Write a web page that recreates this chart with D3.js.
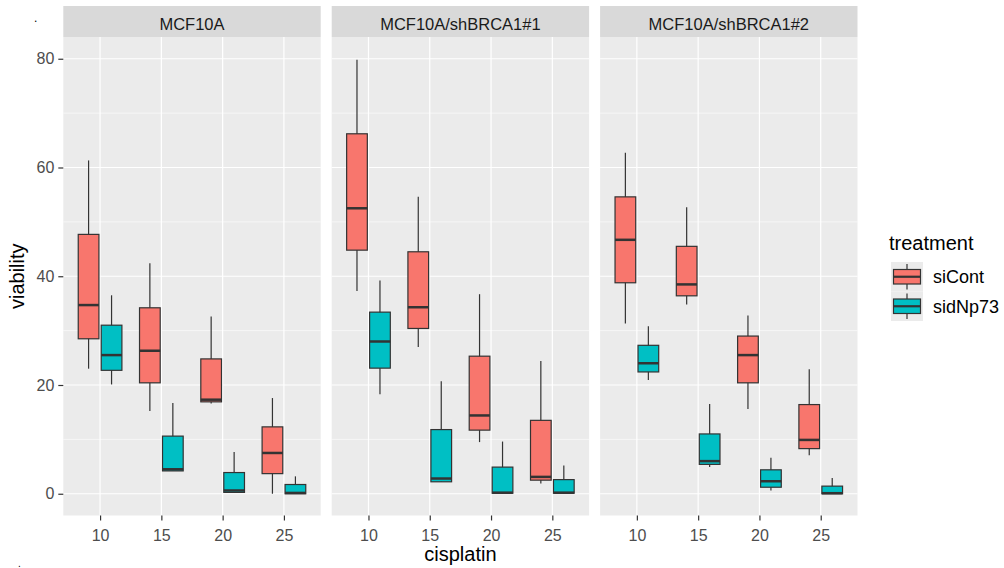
<!DOCTYPE html>
<html>
<head>
<meta charset="utf-8">
<script src="https://cdn.jsdelivr.net/npm/d3@7"></script>
<style>
  body { margin: 0; background: #fff; }
  text { font-family: "Liberation Sans", Arial, sans-serif; }
</style>
</head>
<body>
<div id="chart"></div>
<script>
// data: five-number summaries [lower whisker, q1, median, q3, upper whisker] per dose
var panels = ["MCF10A", "MCF10A/shBRCA1#1", "MCF10A/shBRCA1#2"];
var doses = [10, 15, 20, 25];
var treatments = ["siCont", "sidNp73"];
var colors = ["#F8766D", "#00BFC4"];

var mcf10a_siCont = [[23.0, 28.5, 34.7, 47.7, 61.3], [15.2, 20.4, 26.3, 34.2, 42.4], [16.6, 16.9, 17.3, 24.8, 32.6], [0.0, 3.7, 7.5, 12.3, 17.6]];
var mcf10a_sidNp73 = [[20.1, 22.7, 25.5, 31.0, 36.5], [4.2, 4.2, 4.5, 10.6, 16.7], [0.2, 0.25, 0.6, 3.9, 7.7], [0.0, 0.0, 0.15, 1.7, 3.2]];
var sh1_siCont = [[37.3, 44.8, 52.5, 66.2, 79.8], [27.0, 30.4, 34.3, 44.5, 54.6], [9.5, 11.7, 14.4, 25.3, 36.7], [1.9, 2.5, 3.1, 13.5, 24.4]];
var sh1_sidNp73 = [[18.3, 23.1, 28.0, 33.4, 39.2], [2.2, 2.2, 2.8, 11.8, 20.7], [0.0, 0.1, 0.2, 4.9, 9.6], [0.0, 0.1, 0.2, 2.6, 5.2]];
var sh2_siCont = [[31.3, 38.8, 46.7, 54.6, 62.7], [34.8, 36.4, 38.5, 45.5, 52.7], [15.6, 20.4, 25.5, 29.0, 32.8], [7.1, 8.3, 9.9, 16.4, 22.9]];
var sh2_sidNp73 = [[20.9, 22.4, 24.0, 27.3, 30.8], [4.9, 5.4, 6.0, 11.0, 16.5], [0.6, 1.2, 2.3, 4.4, 6.6], [0.0, 0.0, 0.1, 1.4, 2.9]];

var yMajor = [0, 20, 40, 60, 80];
var yMinor = [10, 30, 50, 70];

var series = [
  [mcf10a_siCont, mcf10a_sidNp73],
  [sh1_siCont, sh1_sidNp73],
  [sh2_siCont, sh2_sidNp73]
];

var width = 1004, height = 568;
var panelTop = 37, panelBottom = 515.5;
var stripTop = 6;
var panelW = 257.4, gap = 11, firstLeft = 63.3;

var svg = d3.select("#chart").append("svg")
  .attr("width", width)
  .attr("height", height);

var y = d3.scaleLinear().domain([-4, 84]).range([panelBottom, panelTop]);

panels.forEach(function(name, p) {
  var left = firstLeft + p * (panelW + gap);
  var x = d3.scalePoint().domain(doses).range([left, left + panelW]).padding(0.6);
  var step = x.step();
  var g = svg.append("g");

  // strip
  g.append("rect")
    .attr("x", left).attr("y", stripTop)
    .attr("width", panelW).attr("height", panelTop - stripTop)
    .attr("fill", "#d9d9d9");
  g.append("text")
    .attr("x", left + panelW / 2).attr("y", 30)
    .attr("text-anchor", "middle")
    .style("font-size", "16.5px")
    .style("fill", "#1a1a1a")
    .text(name);

  // panel background + grid
  g.append("rect")
    .attr("x", left).attr("y", panelTop)
    .attr("width", panelW).attr("height", panelBottom - panelTop)
    .attr("fill", "#ebebeb");
  g.selectAll(".minor").data(yMinor).enter().append("line")
    .attr("x1", left).attr("x2", left + panelW)
    .attr("y1", function(d) { return y(d); }).attr("y2", function(d) { return y(d); })
    .style("stroke", "#fff").style("stroke-width", 0.6);
  g.selectAll(".major").data(yMajor).enter().append("line")
    .attr("x1", left).attr("x2", left + panelW)
    .attr("y1", function(d) { return y(d); }).attr("y2", function(d) { return y(d); })
    .style("stroke", "#fff").style("stroke-width", 1.2);
  g.selectAll(".vmajor").data(doses).enter().append("line")
    .attr("x1", function(d) { return x(d); }).attr("x2", function(d) { return x(d); })
    .attr("y1", panelTop).attr("y2", panelBottom)
    .style("stroke", "#fff").style("stroke-width", 1.2);

  // x axis
  var xAxis = g.append("g")
    .attr("transform", "translate(0," + panelBottom + ")")
    .call(d3.axisBottom(x).tickSize(5).tickPadding(9));
  xAxis.select(".domain").remove();
  xAxis.selectAll("line").style("stroke", "#333").style("stroke-width", 1.2);
  xAxis.selectAll("text").style("font-size", "16px").style("fill", "#4d4d4d")
    .style("font-family", "Liberation Sans, Arial, sans-serif");

  // boxes
  treatments.forEach(function(t, ti) {
    var off = (ti === 0 ? -0.1875 : 0.1875) * step;
    var bw = 0.3375 * step;
    var boxes = g.append("g").selectAll("g").data(series[p][ti]).enter().append("g");
    boxes.append("line")
      .attr("x1", function(d, i) { return x(doses[i]) + off; })
      .attr("x2", function(d, i) { return x(doses[i]) + off; })
      .attr("y1", function(d) { return y(d[4]); })
      .attr("y2", function(d) { return y(d[0]); })
      .style("stroke", "#333").style("stroke-width", 1.2);
    boxes.append("rect")
      .attr("x", function(d, i) { return x(doses[i]) + off - bw / 2; })
      .attr("y", function(d) { return y(d[3]); })
      .attr("width", bw)
      .attr("height", function(d) { return y(d[1]) - y(d[3]); })
      .style("fill", colors[ti])
      .style("stroke", "#333").style("stroke-width", 1.2);
    boxes.append("line")
      .attr("x1", function(d, i) { return x(doses[i]) + off - bw / 2; })
      .attr("x2", function(d, i) { return x(doses[i]) + off + bw / 2; })
      .attr("y1", function(d) { return y(d[2]); })
      .attr("y2", function(d) { return y(d[2]); })
      .style("stroke", "#333").style("stroke-width", 2.5);
  });
});

// y axis (left panel only)
var yAxis = svg.append("g")
  .attr("transform", "translate(" + firstLeft + ",0)")
  .call(d3.axisLeft(y).tickValues(yMajor).tickSize(5).tickPadding(4));
yAxis.select(".domain").remove();
yAxis.selectAll("line").style("stroke", "#333").style("stroke-width", 1.2);
yAxis.selectAll("text").style("font-size", "16px").style("fill", "#4d4d4d")
  .style("font-family", "Liberation Sans, Arial, sans-serif");

// axis titles
var plotMid = firstLeft + (3 * panelW + 2 * gap) / 2;
svg.append("text")
  .attr("x", plotMid).attr("y", 560.5)
  .attr("text-anchor", "middle")
  .style("font-size", "20px").style("fill", "#000")
  .text("cisplatin");
svg.append("text")
  .attr("transform", "translate(24," + ((panelTop + panelBottom) / 2) + ") rotate(-90)")
  .attr("text-anchor", "middle")
  .style("font-size", "20px").style("fill", "#000")
  .text("viability");

// stray dots from the original export
svg.append("text").attr("x", 34).attr("y", 22).style("font-size", "12px").text(".");
svg.append("text").attr("x", 18).attr("y", 567).style("font-size", "10px").text(".");

// legend
var legend = svg.append("g").attr("transform", "translate(889,0)");
legend.append("text")
  .attr("x", 0).attr("y", 250)
  .style("font-size", "20px").style("fill", "#000")
  .text("treatment");
treatments.forEach(function(t, i) {
  var ky = 262 + i * 29.5;
  var k = legend.append("g").attr("transform", "translate(2," + ky + ")");
  k.append("rect").attr("width", 32).attr("height", 29.5).attr("fill", "#ebebeb");
  k.append("line").attr("x1", 16).attr("x2", 16).attr("y1", 2).attr("y2", 27.5)
    .style("stroke", "#333").style("stroke-width", 1.2);
  k.append("rect").attr("x", 2.5).attr("y", 7.5).attr("width", 27).attr("height", 14.5)
    .style("fill", colors[i]).style("stroke", "#333").style("stroke-width", 1.2);
  k.append("line").attr("x1", 2.5).attr("x2", 29.5).attr("y1", 14.75).attr("y2", 14.75)
    .style("stroke", "#333").style("stroke-width", 2.2);
  legend.append("text")
    .attr("x", 44).attr("y", ky + 15).attr("dy", "0.35em")
    .style("font-size", "18px").style("fill", "#000")
    .text(t);
});
</script>
</body>
</html>
